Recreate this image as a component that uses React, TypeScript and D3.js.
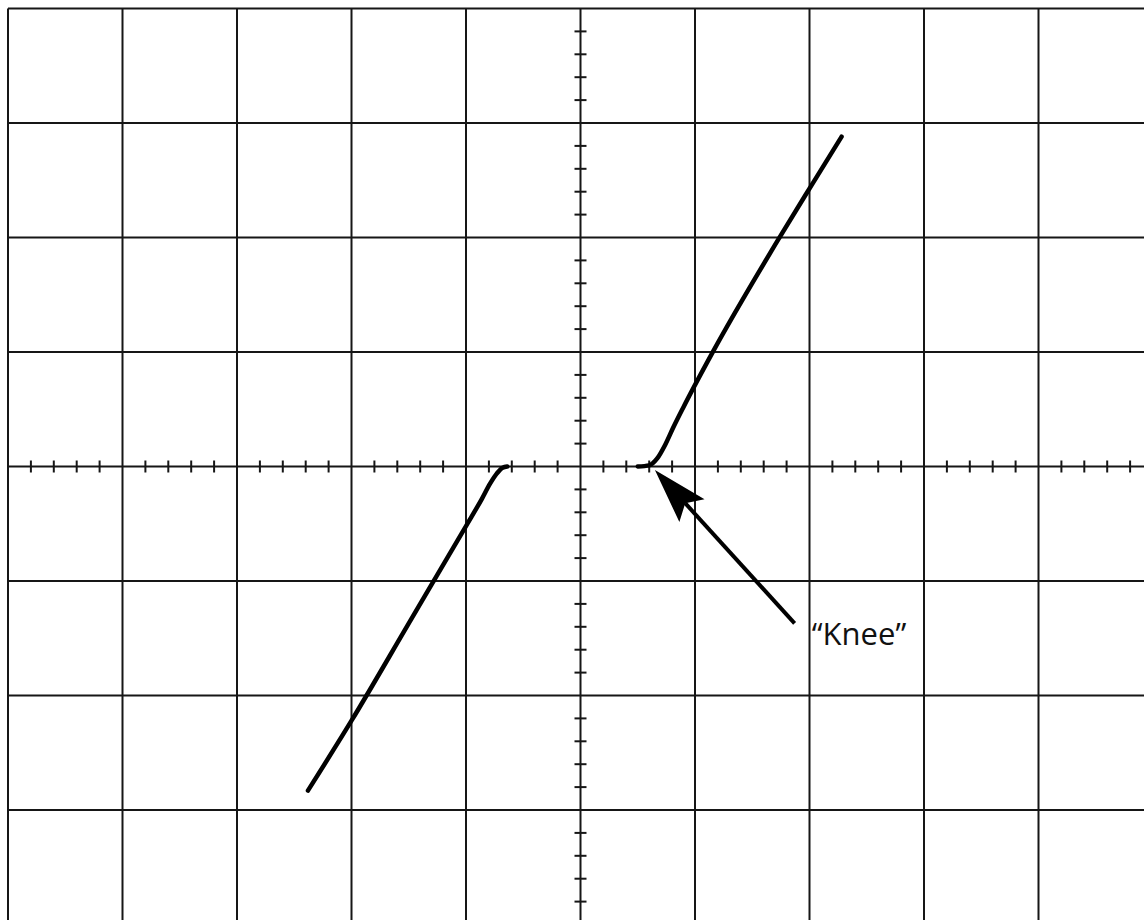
import React from "react";
import * as d3 from "d3";

// Oscilloscope screen: 10 x 8 major divisions, 5 minor ticks per division
const xDivisions = [-5, -4, -3, -2, -1, 0, 1, 2, 3, 4, 5];
const yDivisions = [-4, -3, -2, -1, 0, 1, 2, 3, 4];

// Trace (in divisions)
const leftX = [-2.38, -2.0, -1.5, -1.0, -0.86, -0.79, -0.73, -0.68, -0.64];
const leftY = [-2.83, -2.22, -1.37, -0.52, -0.28, -0.15, -0.06, -0.01, 0];
const rightX = [0.5, 0.6, 0.67, 0.74, 0.81, 0.9, 1.15, 1.72, 2.02, 2.28];
const rightY = [0, 0.01, 0.07, 0.19, 0.34, 0.52, 0.99, 1.97, 2.46, 2.88];

// Annotation
const annotationText = "\u201CKnee\u201D";
const arrowTip = [0.65, -0.03];
const arrowTail = [1.87, -1.37];
const labelPos = [2.02, -1.56];

const W = 1144;
const H = 920;

export default function App() {
  const x = d3.scaleLinear().domain([-5, 5]).range([8, 1153]);
  const y = d3.scaleLinear().domain([-4, 4]).range([924.5, 8.5]);

  const minor = d3.range(-25, 26).filter((i) => i % 5 !== 0).map((i) => i / 5);
  const minorY = d3.range(-20, 21).filter((i) => i % 5 !== 0).map((i) => i / 5);

  const line = d3
    .line<[number, number]>()
    .x((d) => x(d[0]))
    .y((d) => y(d[1]))
    .curve(d3.curveMonotoneX);

  const leftPts = leftX.map((v, i) => [v, leftY[i]] as [number, number]);
  const rightPts = rightX.map((v, i) => [v, rightY[i]] as [number, number]);

  // arrow geometry
  const tx = x(arrowTip[0]);
  const ty = y(arrowTip[1]);
  const sx = x(arrowTail[0]);
  const sy = y(arrowTail[1]);
  const ang = Math.atan2(sy - ty, sx - tx);
  const headLen = 55;
  const headHalf = 17;
  const notch = 45;
  const ux = Math.cos(ang);
  const uy = Math.sin(ang);
  const px = -uy;
  const py = ux;
  const head = [
    [tx, ty],
    [tx + ux * headLen + px * headHalf, ty + uy * headLen + py * headHalf],
    [tx + ux * notch, ty + uy * notch],
    [tx + ux * headLen - px * headHalf, ty + uy * headLen - py * headHalf],
  ];

  const gridColor = "#161616";

  return (
    <svg
      width={W}
      height={H}
      style={{ position: "absolute", left: 0, top: 0, background: "#fff" }}
    >
      <rect x={0} y={0} width={W} height={H} fill="#fff" />
      {/* grid */}
      {xDivisions.map((d) => (
        <line key={"gx" + d} x1={x(d)} x2={x(d)} y1={y(4)} y2={y(-4)} stroke={gridColor} strokeWidth={2} />
      ))}
      {yDivisions.map((d) => (
        <line key={"gy" + d} x1={x(-5)} x2={x(5)} y1={y(d)} y2={y(d)} stroke={gridColor} strokeWidth={2} />
      ))}
      {/* minor ticks on center axes */}
      {minor.map((d) => (
        <line key={"mx" + d} x1={x(d)} x2={x(d)} y1={y(0) - 6} y2={y(0) + 6} stroke={gridColor} strokeWidth={2} />
      ))}
      {minorY.map((d) => (
        <line key={"my" + d} x1={x(0) - 6} x2={x(0) + 6} y1={y(d)} y2={y(d)} stroke={gridColor} strokeWidth={2} />
      ))}
      {/* trace */}
      <path d={line(leftPts) || ""} fill="none" stroke="#000" strokeWidth={4.5} strokeLinecap="round" strokeLinejoin="round" />
      <path d={line(rightPts) || ""} fill="none" stroke="#000" strokeWidth={4.5} strokeLinecap="round" strokeLinejoin="round" />
      {/* annotation arrow */}
      <line x1={sx} y1={sy} x2={tx + ux * notch} y2={ty + uy * notch} stroke="#000" strokeWidth={4} />
      <polygon points={head.map((p) => p.join(",")).join(" ")} fill="#000" />
      <text
        x={x(labelPos[0])}
        y={y(labelPos[1])}
        fontFamily="'Open Sans', 'Noto Sans', sans-serif"
        fontSize={31}
        fill="#111"
      >
        {annotationText}
      </text>
    </svg>
  );
}
